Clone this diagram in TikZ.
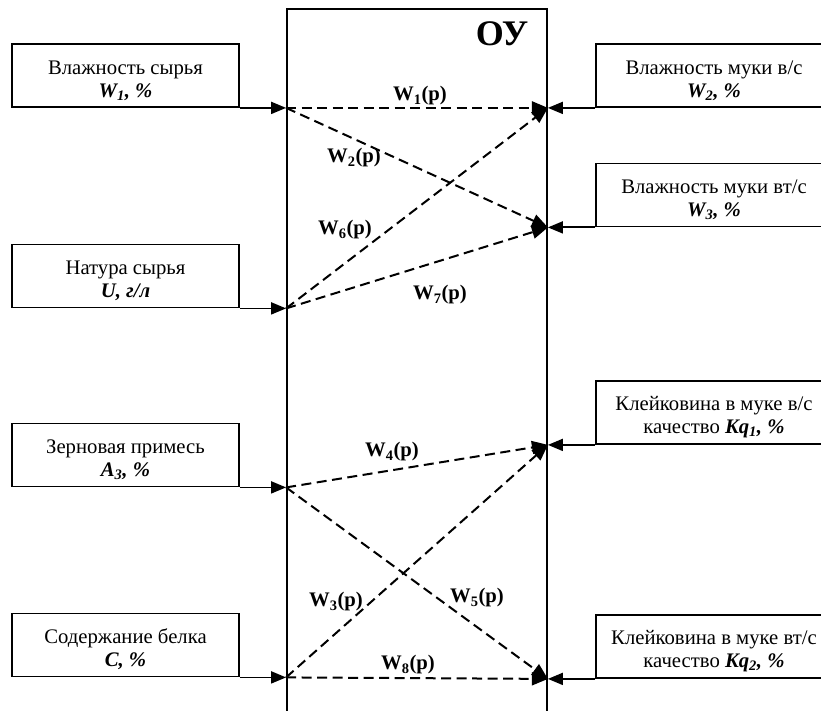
\documentclass[tikz,border=0pt]{standalone}
\usepackage{fontspec}
\setmainfont{Liberation Serif}
\usetikzlibrary{arrows.meta}
\newcommand{\toplift}{\rule{0pt}{24pt}}
\begin{document}
\begin{tikzpicture}[x=1pt,y=-1pt,
  box/.style={draw,line width=1.8pt,minimum width=227pt,minimum height=63pt,inner sep=0pt,align=center,font=\fontsize{20.7}{23}\selectfont},
  rbox/.style={box,minimum width=236pt},
  inarrow/.style={line width=1.8pt,-{Triangle[length=15pt,width=12pt]}},
  tf/.style={line width=2pt,dash pattern=on 10pt off 5.5pt,-{Triangle[length=16pt,width=13pt]}},
  wlab/.style={font=\fontsize{20.7}{22}\selectfont\bfseries,inner sep=0pt}]
\useasboundingbox (0,0) rectangle (821,711);
\node[draw,line width=1.8pt,minimum width=260pt,minimum height=720pt,inner sep=0pt] (ou) at (417,369) {};
\node[font=\fontsize{36}{36}\selectfont\bfseries,anchor=base,inner sep=0pt] (title) at (502,46) {ОУ};
% left boxes
\node[box] (L1) at (125.5,75.5) {\toplift Влажность сырья\\\textbf{\textit{W\textsubscript{1}, \%}}};
\node[box] (L2) at (125.5,276) {\toplift Натура сырья\\\textbf{\textit{U, г/л}}};
\node[box] (L3) at (125.5,455) {\toplift Зерновая примесь\\\textbf{\textit{A\textsubscript{3}, \%}}};
\node[box] (L4) at (125.5,645) {\toplift Содержание белка\\\textbf{\textit{C, \%}}};
% right boxes
\node[rbox] (R1) at (714,75.5) {\toplift Влажность муки в/с\\\textbf{\textit{W\textsubscript{2}, \%}}};
\node[rbox] (R2) at (714,195) {\toplift Влажность муки вт/с\\\textbf{\textit{W\textsubscript{3}, \%}}};
\node[rbox] (R3) at (714,412.5) {\toplift Клейковина в муке в/с\\качество \textbf{\textit{Kq\textsubscript{1}, \%}}};
\node[rbox] (R4) at (714,646.5) {\toplift Клейковина в муке вт/с\\качество \textbf{\textit{Kq\textsubscript{2}, \%}}};
% connection points
\coordinate (a1) at (L1.south east -| ou.west);
\coordinate (a2) at (L2.south east -| ou.west);
\coordinate (a3) at (L3.south east -| ou.west);
\coordinate (a4) at (L4.south east -| ou.west);
\coordinate (b1) at (R1.south west -| ou.east);
\coordinate (b2) at (R2.south west -| ou.east);
\coordinate (b3) at (R3.south west -| ou.east);
\coordinate (b4) at (R4.south west -| ou.east);
% input / output arrows
\draw[inarrow] (L1.south east) -- (a1);
\draw[inarrow] (L2.south east) -- (a2);
\draw[inarrow] (L3.south east) -- (a3);
\draw[inarrow] (L4.south east) -- (a4);
\draw[inarrow] (R1.south west) -- (b1);
\draw[inarrow] (R2.south west) -- (b2);
\draw[inarrow] (R3.south west) -- (b3);
\draw[inarrow] (R4.south west) -- (b4);
% transfer functions
\draw[tf] (a1) -- (b1);
\draw[tf] (a1) -- (b2);
\draw[tf] (a2) -- (b1);
\draw[tf] (a2) -- (b2);
\draw[tf] (a3) -- (b3);
\draw[tf] (a3) -- (b4);
\draw[tf] (a4) -- (b3);
\draw[tf] (a4) -- (b4);
% labels
\node[wlab] (w1) at (420,96) {W\textsubscript{1}(p)};
\node[wlab] (w2) at (354,158) {W\textsubscript{2}(p)};
\node[wlab] (w6) at (345,230) {W\textsubscript{6}(p)};
\node[wlab] (w7) at (440,295) {W\textsubscript{7}(p)};
\node[wlab] (w4) at (392,452) {W\textsubscript{4}(p)};
\node[wlab] (w3) at (336,602) {W\textsubscript{3}(p)};
\node[wlab] (w5) at (477,598) {W\textsubscript{5}(p)};
\node[wlab] (w8) at (408,665) {W\textsubscript{8}(p)};
\end{tikzpicture}
\end{document}
